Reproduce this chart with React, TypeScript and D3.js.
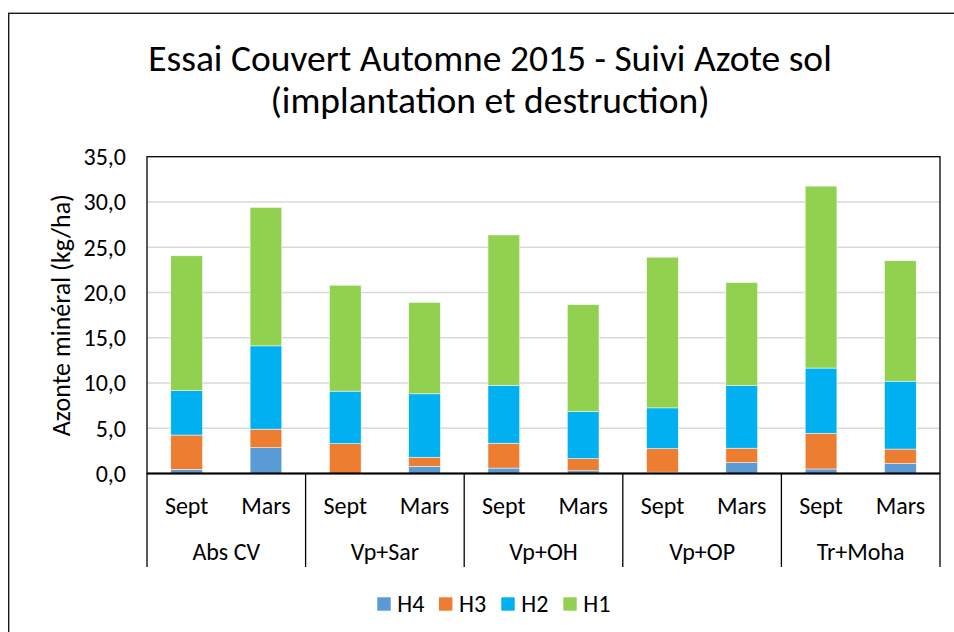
import React from "react";
import * as d3 from "d3";

const groups = ["Abs CV", "Vp+Sar", "Vp+OH", "Vp+OP", "Tr+Moha"];
const periods = ["Sept", "Mars"];
const seriesNames = ["H4", "H3", "H2", "H1"];
const seriesColors = ["#5B9BD5", "#ED7D31", "#00B0F0", "#92D050"];
const H4 = [0.45, 2.85, 0.0, 0.8, 0.6, 0.3, 0.15, 1.2, 0.5, 1.1];
const H3 = [3.8, 2.05, 3.3, 1.0, 2.75, 1.35, 2.6, 1.6, 3.95, 1.6];
const H2 = [4.9, 9.2, 5.8, 7.0, 6.4, 5.2, 4.5, 6.9, 7.2, 7.5];
const H1 = [14.9, 15.3, 11.7, 10.1, 16.6, 11.8, 16.65, 11.4, 20.1, 13.3];
const yTicks = [0, 5, 10, 15, 20, 25, 30, 35];
const titleLines = ["Essai Couvert Automne 2015 - Suivi Azote sol", "(implantation et destruction)"];
const yTitle = "Azonte minéral (kg/ha)";

const FONT = "Carlito, Calibri, Lato, sans-serif";

export default function App() {
  const W = 954, H = 632;
  const left = 147, right = 940, top = 156.7, base = 473.5;
  const axisBottom = 567;

  const cats = groups.flatMap((g) => periods.map((p) => `${g}|${p}`));
  const rows = cats.map((c, i) => ({ cat: c, H4: H4[i], H3: H3[i], H2: H2[i], H1: H1[i] }));
  const stack = d3.stack<any>().keys(seriesNames)(rows);

  const x = d3.scaleBand<string>().domain(cats).range([left, right]).paddingInner(0.6).paddingOuter(0.3);
  const y = d3.scaleLinear().domain([0, 35]).range([base, top]);
  const groupW = (right - left) / groups.length;
  const fmt = (v: number) => v.toFixed(1).replace(".", ",");

  const legendX = [377.3, 439, 501.3, 563.3];
  const fs = 24;

  return (
    <svg width={W} height={H} style={{ position: "absolute", left: 0, top: 0 }} fontFamily={FONT}>
      <rect x={0} y={0} width={W} height={H} fill="#fff" />
      <rect x={8.7} y={13.3} width={1000} height={700} fill="none" stroke="#1a1a1a" strokeWidth={1.4} />
      {titleLines.map((t, i) => (
        <text key={t} x={490} y={71 + i * 42} textAnchor="middle" fontSize={37.5} fill="#000">{t}</text>
      ))}
      {yTicks.map((t) => (
        <g key={t}>
          {t > 0 && t < 35 && (
            <line x1={left} x2={right} y1={y(t)} y2={y(t)} stroke="#d9d9d9" strokeWidth={1.5} />
          )}
          <text x={126} y={y(t)} dy="0.35em" textAnchor="end" fontSize={fs} fill="#000">{fmt(t)}</text>
        </g>
      ))}
      {stack.map((s, si) => (
        <g key={s.key} fill={seriesColors[si]}>
          {s.map((d, i) => (
            <rect key={i} x={x(cats[i])} width={x.bandwidth()} y={y(d[1])} height={Math.max(0, y(d[0]) - y(d[1]))}
              stroke="#fff" strokeWidth={0.5} />
          ))}
        </g>
      ))}
      <rect x={left} y={top} width={right - left} height={base - top} fill="none" stroke="#000" strokeWidth={1.3} />
      <line x1={left} x2={right} y1={base} y2={base} stroke="#000" strokeWidth={2} />
      {d3.range(groups.length + 1).map((k) => (
        <line key={k} x1={left + k * groupW} x2={left + k * groupW} y1={base} y2={axisBottom} stroke="#000" strokeWidth={1.3} />
      ))}
      {cats.map((c) => (
        <text key={c} x={x(c)! + x.bandwidth() / 2} y={506} dy="0.35em" textAnchor="middle" fontSize={fs} fill="#000">
          {c.split("|")[1]}
        </text>
      ))}
      {groups.map((g, k) => (
        <text key={g} x={left + (k + 0.5) * groupW} y={552} dy="0.35em" textAnchor="middle" fontSize={fs} fill="#000">{g}</text>
      ))}
      <text transform={`translate(61,${(top + base) / 2}) rotate(-90)`} textAnchor="middle" dy="0.35em" fontSize={26} fill="#000">{yTitle}</text>
      {seriesNames.map((n, i) => (
        <g key={n}>
          <rect x={legendX[i]} y={597.3} width={13.4} height={13.4} fill={seriesColors[i]} />
          <text x={legendX[i] + 20} y={604} dy="0.35em" fontSize={fs} fill="#000">{n}</text>
        </g>
      ))}
    </svg>
  );
}
